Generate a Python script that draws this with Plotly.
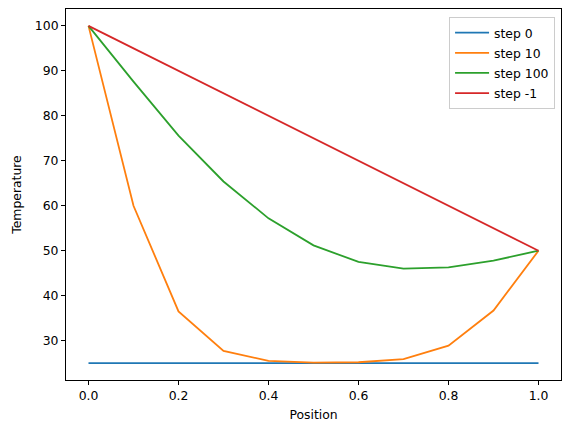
import plotly.graph_objects as go

position = [0.0, 0.1, 0.2, 0.3, 0.4, 0.5, 0.6, 0.7, 0.8, 0.9, 1.0]
step_0 = [25, 25, 25, 25, 25, 25, 25, 25, 25, 25, 25]
step_10 = [100, 60.0, 36.5, 27.7, 25.5, 25.1, 25.2, 25.9, 28.9, 36.7, 50]
step_100 = [100, 87.6, 75.6, 65.4, 57.2, 51.2, 47.5, 46.0, 46.3, 47.8, 50]
step_last = [100, 95, 90, 85, 80, 75, 70, 65, 60, 55, 50]

series = [
    ("step 0", step_0, "#1f77b4"),
    ("step 10", step_10, "#ff7f0e"),
    ("step 100", step_100, "#2ca02c"),
    ("step -1", step_last, "#d62728"),
]

x_ticks = [0.0, 0.2, 0.4, 0.6, 0.8, 1.0]
y_ticks = [30, 40, 50, 60, 70, 80, 90, 100]

fig = go.Figure()
for name, vals, color in series:
    fig.add_trace(go.Scatter(x=position, y=vals, mode="lines", name=name,
                             legendgroup=name,
                             line=dict(color=color, width=1.8)))

font = dict(family="DejaVu Sans", size=12.4, color="black")
axis_common = dict(showline=True, linecolor="black", linewidth=1, mirror=True,
                   ticks="outside", ticklen=4, tickwidth=1, tickcolor="black",
                   showgrid=False, zeroline=False, tickfont=font)

fig.update_layout(
    width=571, height=432,
    margin=dict(l=58, r=18, t=1, b=60),
    plot_bgcolor="white", paper_bgcolor="white",
    font=font,
    showlegend=True,
    legend=dict(x=0.988, y=0.978, xanchor="right", yanchor="top",
                bgcolor="rgba(255,255,255,0.8)", bordercolor="#cccccc", borderwidth=1,
                font=dict(family="DejaVu Sans", size=12.4, color="black"),
                itemwidth=34, tracegroupgap=1),
    xaxis=dict(range=[-0.05, 1.05], tickvals=x_ticks, tickformat=".1f",
               title=dict(text="Position", font=font, standoff=8), **axis_common),
    yaxis=dict(range=[21.25, 103.75], tickvals=y_ticks,
               title=dict(text="Temperature", font=font, standoff=10), **axis_common),
)

fig.write_html("out.html")
